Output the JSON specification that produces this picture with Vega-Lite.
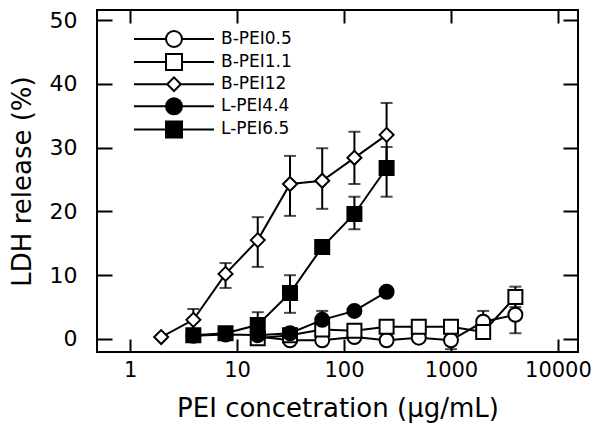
{
  "$schema": "https://vega.github.io/schema/vega-lite/v6.json",
  "width": 481,
  "height": 342,
  "autosize": {"type": "none"},
  "padding": {"left": 97, "top": 10, "right": 22, "bottom": 75},
  "background": "white",
  "config": {
    "view": {"stroke": "black", "strokeWidth": 2},
    "font": "DejaVu Sans",
    "axis": {"grid": false, "domain": false, "tickColor": "black", "tickWidth": 2, "labelColor": "black", "titleColor": "black", "labelFont": "DejaVu Sans", "titleFont": "DejaVu Sans", "titleFontWeight": "normal"}
  },
  "data": {"values": [
    {"series": "B-PEI0.5", "conc": 15.6, "ldh": 0.4},
    {"series": "B-PEI0.5", "conc": 31.25, "ldh": -0.2},
    {"series": "B-PEI0.5", "conc": 62.5, "ldh": -0.2},
    {"series": "B-PEI0.5", "conc": 125, "ldh": 0.3},
    {"series": "B-PEI0.5", "conc": 250, "ldh": -0.2},
    {"series": "B-PEI0.5", "conc": 500, "ldh": 0.2},
    {"series": "B-PEI0.5", "conc": 1000, "ldh": -0.2, "lo": -1.6, "hi": 1.2},
    {"series": "B-PEI0.5", "conc": 2000, "ldh": 2.7, "lo": 1.0, "hi": 4.4},
    {"series": "B-PEI0.5", "conc": 4000, "ldh": 3.8, "lo": 0.9, "hi": 6.7},
    {"series": "B-PEI1.1", "conc": 15.6, "ldh": 0.1},
    {"series": "B-PEI1.1", "conc": 31.25, "ldh": 0.6},
    {"series": "B-PEI1.1", "conc": 62.5, "ldh": 1.5},
    {"series": "B-PEI1.1", "conc": 125, "ldh": 1.3},
    {"series": "B-PEI1.1", "conc": 250, "ldh": 1.9},
    {"series": "B-PEI1.1", "conc": 500, "ldh": 1.9},
    {"series": "B-PEI1.1", "conc": 1000, "ldh": 1.9},
    {"series": "B-PEI1.1", "conc": 2000, "ldh": 1.1},
    {"series": "B-PEI1.1", "conc": 4000, "ldh": 6.6, "lo": 5.0, "hi": 8.2},
    {"series": "B-PEI12", "conc": 1.95, "ldh": 0.3},
    {"series": "B-PEI12", "conc": 3.9, "ldh": 3.0, "lo": 1.3, "hi": 4.7},
    {"series": "B-PEI12", "conc": 7.8, "ldh": 10.2, "lo": 8.0, "hi": 11.9},
    {"series": "B-PEI12", "conc": 15.6, "ldh": 15.5, "lo": 11.3, "hi": 19.1},
    {"series": "B-PEI12", "conc": 31.25, "ldh": 24.3, "lo": 19.3, "hi": 28.7},
    {"series": "B-PEI12", "conc": 62.5, "ldh": 24.8, "lo": 20.4, "hi": 29.9},
    {"series": "B-PEI12", "conc": 125, "ldh": 28.4, "lo": 24.3, "hi": 32.5},
    {"series": "B-PEI12", "conc": 250, "ldh": 32.0, "lo": 27.0, "hi": 37.0},
    {"series": "L-PEI4.4", "conc": 3.9, "ldh": 0.5},
    {"series": "L-PEI4.4", "conc": 7.8, "ldh": 0.7},
    {"series": "L-PEI4.4", "conc": 15.6, "ldh": 0.6},
    {"series": "L-PEI4.4", "conc": 31.25, "ldh": 0.9},
    {"series": "L-PEI4.4", "conc": 62.5, "ldh": 3.0, "lo": 1.6, "hi": 4.4},
    {"series": "L-PEI4.4", "conc": 125, "ldh": 4.4},
    {"series": "L-PEI4.4", "conc": 250, "ldh": 7.4},
    {"series": "L-PEI6.5", "conc": 3.9, "ldh": 0.6},
    {"series": "L-PEI6.5", "conc": 7.8, "ldh": 0.9},
    {"series": "L-PEI6.5", "conc": 15.6, "ldh": 2.2, "lo": 0.2, "hi": 4.2},
    {"series": "L-PEI6.5", "conc": 31.25, "ldh": 7.2, "lo": 4.1, "hi": 10.0},
    {"series": "L-PEI6.5", "conc": 62.5, "ldh": 14.4},
    {"series": "L-PEI6.5", "conc": 125, "ldh": 19.6, "lo": 17.2, "hi": 22.3},
    {"series": "L-PEI6.5", "conc": 250, "ldh": 26.8, "lo": 22.3, "hi": 30.1}
  ]},
  "resolve": {"scale": {"shape": "independent", "fill": "independent"}, "axis": {"x": "independent", "y": "independent"}},
  "layer": [
    {
      "mark": {"type": "line", "color": "black", "strokeWidth": 2},
      "encoding": {
        "x": {"field": "conc", "type": "quantitative", "scale": {"type": "log", "domain": [0.49, 15400], "nice": false},
              "axis": {"orient": "bottom", "values": [1, 10, 100, 1000, 10000], "format": "d", "tickSize": -13, "labelFontSize": 21, "labelPadding": 20, "labelFlush": false, "title": "PEI concetration (µg/mL)", "titleFontSize": 26, "titlePadding": 15}},
        "y": {"field": "ldh", "type": "quantitative", "scale": {"domain": [-2.04, 51.57], "nice": false, "zero": false},
              "axis": {"orient": "left", "values": [0, 10, 20, 30, 40, 50], "tickSize": -15, "labelFontSize": 22, "labelPadding": 35, "title": "LDH release (%)", "titleFontSize": 26, "titlePadding": 14}},
        "detail": {"field": "series"}
      }
    },
    {
      "transform": [{"filter": "isValid(datum.lo)"}],
      "mark": {"type": "rule", "color": "black", "strokeWidth": 2},
      "encoding": {
        "x": {"field": "conc", "type": "quantitative", "axis": null},
        "y": {"field": "lo", "type": "quantitative", "axis": null},
        "y2": {"field": "hi"}
      }
    },
    {
      "transform": [{"filter": "isValid(datum.lo)"}],
      "mark": {"type": "tick", "orient": "horizontal", "color": "black", "size": 12, "thickness": 2},
      "encoding": {
        "x": {"field": "conc", "type": "quantitative", "axis": null},
        "y": {"field": "lo", "type": "quantitative", "axis": null}
      }
    },
    {
      "transform": [{"filter": "isValid(datum.lo)"}],
      "mark": {"type": "tick", "orient": "horizontal", "color": "black", "size": 12, "thickness": 2},
      "encoding": {
        "x": {"field": "conc", "type": "quantitative", "axis": null},
        "y": {"field": "hi", "type": "quantitative", "axis": null}
      }
    },
    {
      "mark": {"type": "point", "filled": false, "stroke": "black", "strokeWidth": 2, "size": 196, "opacity": 1},
      "encoding": {
        "x": {"field": "conc", "type": "quantitative", "axis": null},
        "y": {"field": "ldh", "type": "quantitative", "axis": null},
        "shape": {"field": "series", "type": "nominal", "scale": {"domain": ["B-PEI0.5", "B-PEI1.1", "B-PEI12", "L-PEI4.4", "L-PEI6.5"], "range": ["circle", "square", "diamond", "circle", "square"]}, "legend": null},
        "fill": {"field": "series", "type": "nominal", "scale": {"domain": ["B-PEI0.5", "B-PEI1.1", "B-PEI12", "L-PEI4.4", "L-PEI6.5"], "range": ["white", "white", "white", "black", "black"]}, "legend": null}
      }
    },
    {
      "mark": {"type": "point", "filled": false, "stroke": "black", "strokeWidth": 2, "opacity": 0},
      "encoding": {
        "x": {"field": "conc", "type": "quantitative", "axis": {"orient": "top", "values": [1, 10, 100, 1000, 10000], "labels": false, "tickSize": -13, "title": null}},
        "y": {"field": "ldh", "type": "quantitative", "axis": {"orient": "right", "values": [0, 10, 20, 30, 40, 50], "labels": false, "tickSize": -15, "title": null}},
        "shape": {"field": "series", "type": "nominal",
          "scale": {"domain": ["B-PEI0.5", "B-PEI1.1", "B-PEI12", "L-PEI4.4", "L-PEI6.5"],
                    "range": ["M-5,0L-1,0M1,0L5,0M-1,0A1,1,0,1,1,1,0A1,1,0,1,1,-1,0Z",
                              "M-5,0L-1,0M1,0L5,0M-1,-1L1,-1L1,1L-1,1Z",
                              "M-5,0L-0.85,0M0.85,0L5,0M-0.85,0L0,-0.85L0.85,0L0,0.85Z",
                              "M-5,0L-1,0M1,0L5,0M-1,0A1,1,0,1,1,1,0A1,1,0,1,1,-1,0Z",
                              "M-5,0L-1,0M1,0L5,0M-1,-1L1,-1L1,1L-1,1Z"]},
          "legend": {"title": null, "orient": "none", "legendX": 68, "legendY": 20, "padding": 0, "symbolSize": 256, "symbolStrokeWidth": 2, "symbolStrokeColor": "black", "symbolOpacity": 1, "labelOffset": 38, "labelFontSize": 17, "labelFont": "DejaVu Sans", "labelColor": "black", "rowPadding": -0.9,
                     "encode": {"symbols": {"update": {"opacity": {"value": 1}, "stroke": {"value": "black"}, "strokeWidth": {"value": 2}}}}}},
        "fill": {"field": "series", "type": "nominal",
          "scale": {"domain": ["B-PEI0.5", "B-PEI1.1", "B-PEI12", "L-PEI4.4", "L-PEI6.5"], "range": ["white", "white", "white", "black", "black"]},
          "legend": {"title": null, "orient": "none", "legendX": 68, "legendY": 20, "padding": 0, "symbolSize": 256, "symbolStrokeWidth": 2, "symbolStrokeColor": "black", "symbolOpacity": 1, "labelOffset": 38, "labelFontSize": 17, "labelFont": "DejaVu Sans", "labelColor": "black", "rowPadding": -0.9,
                     "encode": {"symbols": {"update": {"opacity": {"value": 1}, "stroke": {"value": "black"}, "strokeWidth": {"value": 2}}}}}}
      }
    }
  ]
}
